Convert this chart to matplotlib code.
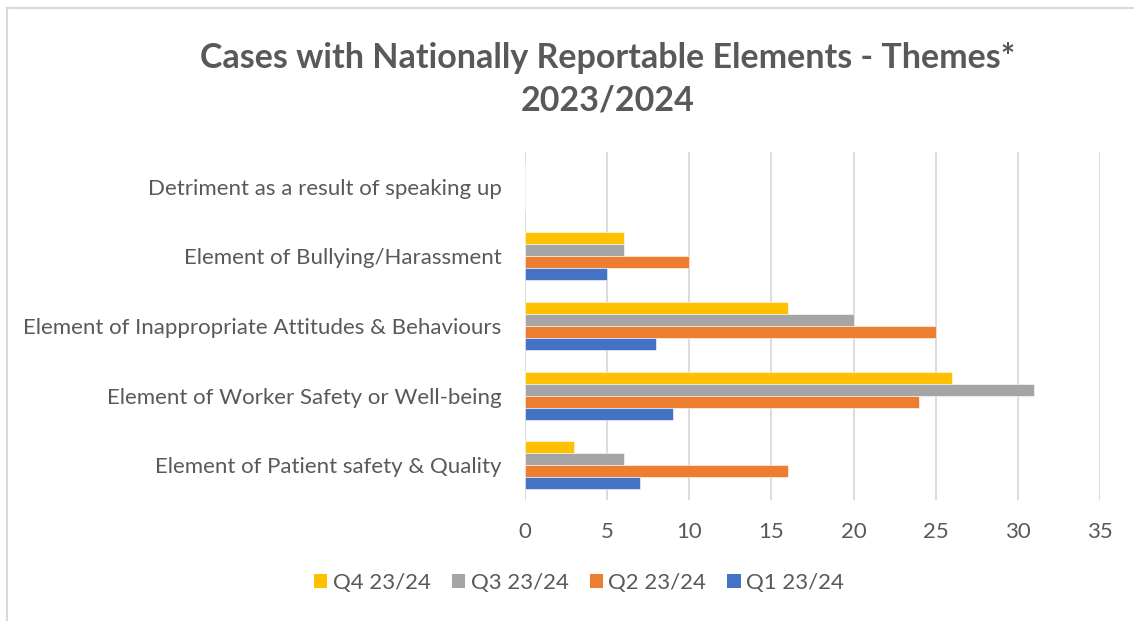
import matplotlib
matplotlib.use("Agg")
import matplotlib.pyplot as plt
from matplotlib.patches import Patch
from matplotlib.lines import Line2D
import numpy as np

# data (categories listed bottom -> top as drawn)
categories = [
    "Element of Patient safety & Quality",
    "Element of Worker Safety or Well-being",
    "Element of Inappropriate Attitudes & Behaviours",
    "Element of Bullying/Harassment",
    "Detriment as a result of speaking up",
]
q1 = [7, 9, 8, 5, 0]
q2 = [16, 24, 25, 10, 0]
q3 = [6, 31, 20, 6, 0]
q4 = [3, 26, 16, 6, 0]
series_names = ["Q4 23/24", "Q3 23/24", "Q2 23/24", "Q1 23/24"]
series_colors = ["#FFC000", "#A5A5A5", "#ED7D31", "#4472C4"]
x_ticks = [0, 5, 10, 15, 20, 25, 30, 35]

plt.rcParams['font.family'] = ['Lato', 'DejaVu Sans']
txt = "#595959"

fig = plt.figure(figsize=(11.34, 6.21), dpi=100)
ax = fig.add_axes([525/1134, 1 - 500/621, (1100 - 525)/1134, 348/621])

y = np.arange(len(categories))
h = 0.172
series = [q4, q3, q2, q1]
offsets = [1.5, 0.5, -0.5, -1.5]
for vals, off, col in zip(series, offsets, series_colors):
    ax.barh(y + off*h, vals, height=h, color=col, edgecolor="white",
            linewidth=0.4, zorder=3)

ax.set_xlim(0, 35)
ax.set_ylim(-0.5, len(categories) - 0.5)
ax.set_xticks(x_ticks)
ax.set_yticks(y)
ax.set_yticklabels(categories)
ax.grid(axis="x", color="#D9D9D9", linewidth=1.3, zorder=0)
for s in ax.spines.values():
    s.set_visible(False)
ax.tick_params(axis="both", length=0, labelsize=16, labelcolor=txt)
ax.tick_params(axis="y", pad=17)
ax.tick_params(axis="x", pad=16)

fig.text(608/1134, 1 - 79.5/621,
         "Cases with Nationally Reportable Elements - Themes*\n2023/2024",
         ha="center", va="center", fontsize=24.5, fontweight="bold",
         color=txt, linespacing=1.4)

handles = [Patch(facecolor=c, edgecolor="none") for c in series_colors]
fig.legend(handles, series_names, loc="center", bbox_to_anchor=(579/1134, 1 - 583/621),
           ncol=4, frameon=False, fontsize=16, labelcolor=txt,
           handlelength=0.6, handleheight=0.6, handletextpad=0.25,
           columnspacing=0.95)

# outer chart border (top and left visible in crop)
fig.add_artist(Line2D([7/1134, 7/1134], [0, 1 - 8/621], color="#D9D9D9",
                      linewidth=1.5, transform=fig.transFigure))
fig.add_artist(Line2D([7/1134, 1], [1 - 8/621, 1 - 8/621], color="#D9D9D9",
                      linewidth=1.5, transform=fig.transFigure))

fig.savefig("out.png", dpi=100, facecolor="white")
